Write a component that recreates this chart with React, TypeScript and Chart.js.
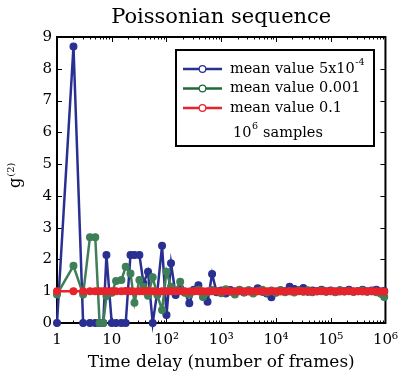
import React, { useEffect, useRef } from "react";
import { Chart, registerables } from "chart.js";

Chart.register(...registerables);

// ---------- data ----------
const delays = [
  1, 2, 3, 4, 5, 6, 7, 8, 10, 12,
  15, 18, 22, 26, 32, 38, 46, 56, 68, 83,
  100, 121, 147, 178, 215, 261, 316, 383, 464, 562,
  681, 825, 1000, 1212, 1468, 1778, 2154, 2610, 3162, 3831,
  4642, 5623, 6813, 8254, 10000, 12115, 14678, 17783, 21544, 26102,
  31623, 38312, 46416, 56234, 68129, 82540, 100000, 121153, 146780, 177828,
  215443, 261016, 316228, 383119, 464159, 562341, 681292, 825404, 950000,
];

const blueValues = [
  0, 8.7, 0, 0, 0, 0, 0, 2.14, 0, 0,
  0, 0, 2.14, 2.14, 2.14, 1.25, 1.61, 0, 0.98, 2.43,
  0.25, 1.88, 0.88, 1.09, 0.98, 0.62, 1.05, 1.19, 0.95, 0.67,
  1.54, 0.97, 1.02, 0.93, 1.04, 0.98, 1.03, 0.96, 1.02, 0.98,
  1.09, 0.98, 0.93, 0.81, 0.97, 1.03, 1.0, 1.14, 1.07, 1.03,
  1.1, 0.98, 1.02, 1.0, 1.05, 0.99, 1.02, 0.98, 1.03, 1.0,
  1.05, 0.98, 1.01, 1.05, 0.99, 1.02, 1.05, 0.99, 1.01,
];

const greenValues = [
  0.9, 1.8, 0.9, 2.7, 2.7, 0, 0, 0.85, 0.95, 1.32,
  1.35, 1.77, 1.56, 0.64, 1.35, 1.14, 0.86, 1.44, 0.88, 0.41,
  1.61, 1.14, 1.0, 1.3, 0.95, 0.9, 1.0, 1.05, 0.82, 0.97,
  1.04, 1.0, 0.94, 1.06, 0.98, 0.9, 1.05, 0.97, 1.03, 0.93,
  1.0, 1.05, 0.96, 1.02, 0.95, 1.03, 0.97, 1.0, 0.96, 1.02,
  0.98, 1.03, 0.97, 1.0, 1.02, 0.98, 1.0, 0.97, 1.02, 0.99,
  1.01, 0.98, 1.0, 1.02, 0.98, 1.0, 0.97, 0.92, 0.82,
];

const redValues = [
  1.0, 1.0, 1.0, 1.0, 1.0, 1.0, 1.0, 1.0, 1.0, 1.0,
  1.0, 1.01, 1.0, 0.99, 1.0, 1.0, 1.01, 1.0, 0.99, 1.0,
  1.0, 1.0, 1.0, 1.01, 1.0, 0.99, 1.0, 1.0, 1.0, 1.0,
  1.0, 1.0, 0.99, 1.0, 1.0, 1.0, 1.0, 1.0, 0.99, 1.0,
  1.0, 1.0, 1.0, 1.0, 1.0, 0.99, 1.0, 1.0, 1.0, 1.0,
  1.0, 1.0, 0.99, 1.0, 1.0, 1.0, 1.0, 1.0, 0.99, 1.0,
  1.0, 1.0, 1.0, 0.99, 1.0, 1.0, 1.0, 0.99, 0.98,
];

const xTickValues = [1, 10, 100, 1000, 10000, 100000, 1000000];
const xTickLabels = ["1", "10", "10²", "10³", "10⁴", "10⁵", "10⁶"];
const yTickValues = [0, 1, 2, 3, 4, 5, 6, 7, 8, 9];

const seriesNames = ["mean value 5x10", "mean value 0.001", "mean value 0.1"];
const seriesSuperscripts = ["-4", "", ""];
const noteBase = "10";
const noteSup = "6";
const noteRest = " samples";
const titleText = "Poissonian sequence";
const xAxisTitle = "Time delay (number of frames)";
const yAxisBase = "g";
const yAxisSup = "(2)";

const BLUE = "#2a2f92";
const GREEN = "#3f7f58";
const GREEN_LEGEND = "#1d6a3a";
const RED = "#e8232b";
const FONT = '"DejaVu Serif", serif';

const decoPlugin = {
  id: "deco",
  beforeDatasetsDraw(chart: any) {
    const { ctx, chartArea } = chart;
    const { left, right, top, bottom } = chartArea;
    const xs = chart.scales.x;
    const ys = chart.scales.y;
    ctx.save();
    ctx.strokeStyle = "#000";
    ctx.lineWidth = 1;
    for (let e = 0; e < 6; e++) {
      for (let m = 1; m < 10; m++) {
        const v = m * Math.pow(10, e);
        const px = Math.round(xs.getPixelForValue(v)) + 0.5;
        const len = m === 1 ? 5 : 2.5;
        ctx.beginPath();
        ctx.moveTo(px, bottom);
        ctx.lineTo(px, bottom - len);
        ctx.moveTo(px, top);
        ctx.lineTo(px, top + len);
        ctx.stroke();
      }
    }
    for (const v of yTickValues) {
      const py = Math.round(ys.getPixelForValue(v)) + 0.5;
      ctx.beginPath();
      ctx.moveTo(left, py);
      ctx.lineTo(left + 5, py);
      ctx.moveTo(right, py);
      ctx.lineTo(right - 5, py);
      ctx.stroke();
    }
    ctx.lineWidth = 2;
    ctx.strokeRect(left, top, right - left, bottom - top);

    ctx.fillStyle = "#000";
    ctx.font = "21px " + FONT;
    ctx.textAlign = "center";
    ctx.textBaseline = "alphabetic";
    ctx.fillText(titleText, (left + right) / 2, 23);

    ctx.translate(20, (top + bottom) / 2 + 8);
    ctx.rotate(-Math.PI / 2);
    ctx.textAlign = "left";
    ctx.font = "16px " + FONT;
    ctx.fillText(yAxisBase, 0, 0);
    const gw = ctx.measureText(yAxisBase).width;
    ctx.font = "10px " + FONT;
    ctx.fillText(yAxisSup, gw + 1, -6);
    ctx.restore();
  },
  afterDraw(chart: any) {
    const { ctx } = chart;
    const bx = 176, by = 50, bw = 198, bh = 96;
    ctx.save();
    ctx.fillStyle = "#fff";
    ctx.fillRect(bx, by, bw, bh);
    ctx.strokeStyle = "#000";
    ctx.lineWidth = 2;
    ctx.strokeRect(bx, by, bw, bh);
    const colors = [BLUE, GREEN_LEGEND, RED];
    const rows = [69, 88.5, 108];
    ctx.textBaseline = "middle";
    ctx.textAlign = "left";
    for (let i = 0; i < 3; i++) {
      const y = rows[i];
      ctx.strokeStyle = colors[i];
      ctx.lineWidth = 2.5;
      ctx.beginPath();
      ctx.moveTo(183, y);
      ctx.lineTo(222, y);
      ctx.stroke();
      ctx.fillStyle = "#fff";
      ctx.lineWidth = 1.2;
      ctx.beginPath();
      ctx.arc(202.5, y, 3.3, 0, Math.PI * 2);
      ctx.fill();
      ctx.stroke();
      ctx.fillStyle = "#000";
      ctx.font = "14.5px " + FONT;
      ctx.fillText(seriesNames[i], 230, y);
      if (seriesSuperscripts[i]) {
        const w = ctx.measureText(seriesNames[i]).width;
        ctx.font = "9.5px " + FONT;
        ctx.fillText(seriesSuperscripts[i], 230 + w + 0.5, y - 6);
      }
    }
    ctx.fillStyle = "#000";
    ctx.font = "14.5px " + FONT;
    const nx = 233;
    const ny = 133;
    ctx.fillText(noteBase, nx, ny);
    const w1 = ctx.measureText(noteBase).width;
    ctx.font = "9.5px " + FONT;
    ctx.fillText(noteSup, nx + w1 + 0.5, ny - 6);
    const w2 = ctx.measureText(noteSup).width;
    ctx.font = "14.5px " + FONT;
    ctx.fillText(noteRest, nx + w1 + w2 + 1, ny);
    ctx.restore();
  },
};

function makeSeries(values: number[]) {
  return delays.map((d, i) => ({ x: d, y: values[i] }));
}

export default function App() {
  const ref = useRef<HTMLCanvasElement | null>(null);
  useEffect(() => {
    document.body.style.margin = "0";
    const canvas = ref.current;
    if (!canvas) return;
    const common = {
      pointRadius: 3.4,
      pointBorderWidth: 1.2,
      borderWidth: 2.5,
      tension: 0,
      clip: false as any,
    };
    const chart = new Chart(canvas, {
      type: "line",
      data: {
        datasets: [
          {
            label: "mean value 0.1",
            data: makeSeries(redValues),
            borderColor: RED,
            backgroundColor: RED,
            pointBackgroundColor: RED,
            pointBorderColor: RED,
            order: 0,
            ...common,
          },
          {
            label: "mean value 0.001",
            data: makeSeries(greenValues),
            borderColor: GREEN,
            backgroundColor: GREEN,
            pointBackgroundColor: GREEN,
            pointBorderColor: GREEN,
            order: 1,
            ...common,
          },
          {
            label: "mean value 5x10^-4",
            data: makeSeries(blueValues),
            borderColor: BLUE,
            backgroundColor: BLUE,
            pointBackgroundColor: BLUE,
            pointBorderColor: BLUE,
            order: 2,
            ...common,
          },
        ],
      },
      options: {
        animation: false,
        responsive: false,
        devicePixelRatio: 1,
        layout: { padding: { top: 37, right: 20, left: 0, bottom: 0 } },
        plugins: {
          legend: { display: false },
          tooltip: { enabled: false },
          title: { display: false },
        },
        scales: {
          x: {
            type: "logarithmic",
            min: 1,
            max: 1000000,
            grid: { display: false, drawTicks: false },
            border: { display: false },
            afterBuildTicks: (scale: any) => {
              scale.ticks = xTickValues.map((v) => ({ value: v, major: true }));
            },
            afterFit: (scale: any) => {
              scale.height = 50;
            },
            ticks: {
              autoSkip: false,
              maxRotation: 0,
              minRotation: 0,
              padding: 8,
              color: "#000",
              font: { family: FONT, size: 15 },
              callback: (value: any) => {
                const idx = xTickValues.indexOf(Number(value));
                return idx >= 0 ? xTickLabels[idx] : "";
              },
            },
            title: {
              display: true,
              text: xAxisTitle,
              color: "#000",
              font: { family: FONT, size: 17 },
              padding: { top: 0, bottom: 0 },
            },
          },
          y: {
            type: "linear",
            min: 0,
            max: 9,
            grid: { display: false, drawTicks: false },
            border: { display: false },
            afterBuildTicks: (scale: any) => {
              scale.ticks = yTickValues.map((v) => ({ value: v }));
            },
            afterFit: (scale: any) => {
              scale.width = 57;
            },
            ticks: {
              padding: 5,
              color: "#000",
              font: { family: FONT, size: 15 },
              callback: (value: any) => String(value),
            },
          },
        },
      },
      plugins: [decoPlugin],
    });
    return () => chart.destroy();
  }, []);
  return (
    <canvas
      ref={ref}
      width={406}
      height={373}
      style={{ display: "block", width: 406, height: 373 }}
    />
  );
}
